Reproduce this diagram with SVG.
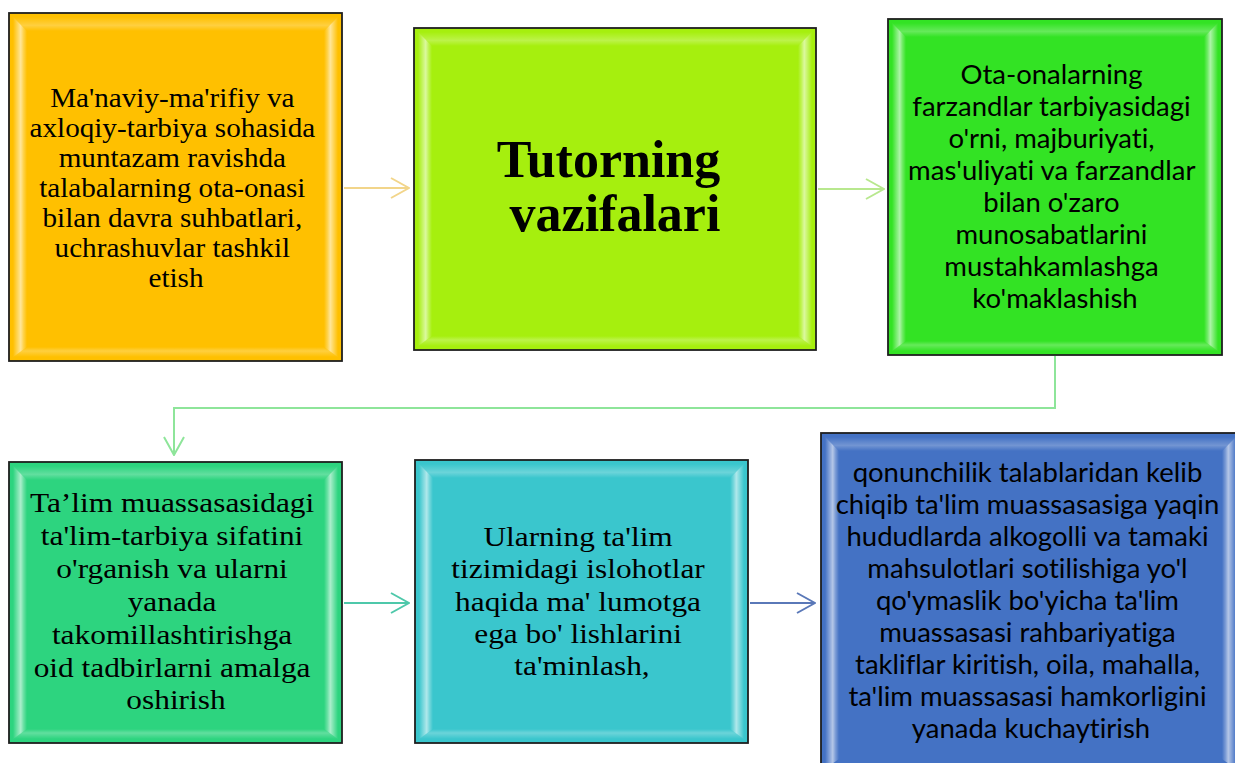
<svg xmlns="http://www.w3.org/2000/svg" width="1235" height="763" viewBox="0 0 1235 763">
<style>
.box{stroke:#1e1e1e;stroke-width:1.8}
.bl{fill:url(#bevL)}
.br{fill:url(#bevR)}
.bt{fill:url(#bevT)}
.bb{fill:url(#bevB)}
.serif{font-family:"Liberation Serif","Times New Roman",serif;font-size:28px;fill:#000;text-anchor:middle}
.title{font-family:"Liberation Serif","Times New Roman",serif;font-size:52px;font-weight:bold;fill:#000;text-anchor:middle}
.sans{font-family:Lato,"Liberation Sans",sans-serif;font-size:27.5px;fill:#000;text-anchor:middle;font-variant-ligatures:none}
.con{fill:none;stroke-width:2}
</style>
<defs>
<linearGradient id="bevL" x1="0" y1="0" x2="1" y2="0">
<stop offset="0" stop-color="#fff" stop-opacity="0"/>
<stop offset="0.55" stop-color="#fff" stop-opacity="0.6"/>
<stop offset="0.75" stop-color="#fff" stop-opacity="0.3"/>
<stop offset="1" stop-color="#fff" stop-opacity="0"/>
</linearGradient>
<linearGradient id="bevR" x1="1" y1="0" x2="0" y2="0">
<stop offset="0" stop-color="#fff" stop-opacity="0"/>
<stop offset="0.55" stop-color="#fff" stop-opacity="0.6"/>
<stop offset="0.75" stop-color="#fff" stop-opacity="0.3"/>
<stop offset="1" stop-color="#fff" stop-opacity="0"/>
</linearGradient>
<linearGradient id="bevT" x1="0" y1="0" x2="0" y2="1">
<stop offset="0" stop-color="#fff" stop-opacity="0"/>
<stop offset="0.6" stop-color="#fff" stop-opacity="0.25"/>
<stop offset="1" stop-color="#fff" stop-opacity="0"/>
</linearGradient>
<linearGradient id="bevB" x1="0" y1="1" x2="0" y2="0">
<stop offset="0" stop-color="#fff" stop-opacity="0"/>
<stop offset="0.6" stop-color="#fff" stop-opacity="0.25"/>
<stop offset="1" stop-color="#fff" stop-opacity="0"/>
</linearGradient>
<marker id="mOr" viewBox="0 0 20 22" refX="19" refY="11" markerWidth="20" markerHeight="22" markerUnits="userSpaceOnUse" orient="auto"><path d="M1,1 L19,11 L1,21" fill="none" stroke="#F2D58A" stroke-width="2"/></marker>
<marker id="mLi" viewBox="0 0 20 22" refX="19" refY="11" markerWidth="20" markerHeight="22" markerUnits="userSpaceOnUse" orient="auto"><path d="M1,1 L19,11 L1,21" fill="none" stroke="#B8E88E" stroke-width="2"/></marker>
<marker id="mGr" viewBox="0 0 20 22" refX="19" refY="11" markerWidth="20" markerHeight="22" markerUnits="userSpaceOnUse" orient="auto"><path d="M1,1 L19,11 L1,21" fill="none" stroke="#8EE59A" stroke-width="2"/></marker>
<marker id="mTe" viewBox="0 0 20 22" refX="19" refY="11" markerWidth="20" markerHeight="22" markerUnits="userSpaceOnUse" orient="auto"><path d="M1,1 L19,11 L1,21" fill="none" stroke="#4EC8AA" stroke-width="2"/></marker>
<marker id="mBl" viewBox="0 0 20 22" refX="19" refY="11" markerWidth="20" markerHeight="22" markerUnits="userSpaceOnUse" orient="auto"><path d="M1,1 L19,11 L1,21" fill="none" stroke="#5A78B8" stroke-width="2"/></marker>
</defs>
<rect width="1235" height="763" fill="#fff"/>

<g id="connectors">
<path class="con" stroke="#F2D58A" d="M344,188 H409" marker-end="url(#mOr)"/>
<path class="con" stroke="#B8E88E" d="M818,189 H884" marker-end="url(#mLi)"/>
<path class="con" stroke="#8EE59A" d="M1055,356 V408 H174 V455" marker-end="url(#mGr)"/>
<path class="con" stroke="#4EC8AA" d="M344,603 H409" marker-end="url(#mTe)"/>
<path class="con" stroke="#5A78B8" d="M750,603 H815" marker-end="url(#mBl)"/>
</g>

<g id="node1">
<rect class="box" x="9" y="13" width="333" height="348" fill="#FFC000"/>
<polygon class="bl" points="13,17 27,31 27,347 13,357"/>
<polygon class="br" points="338,17 324,31 324,347 338,357"/>
<polygon class="bt" points="13,17 338,17 324,31 27,31"/>
<polygon class="bb" points="13,357 338,357 324,347 27,347"/>
<text class="serif" style="font-size:26.5px" transform="translate(176,0) scale(1.1,1) translate(-176,0)">
<tspan x="176" y="107">Ma'naviy-ma'rifiy va</tspan>
<tspan x="176" y="137">axloqiy-tarbiya sohasida</tspan>
<tspan x="176" y="167">muntazam ravishda</tspan>
<tspan x="176" y="197">talabalarning ota-onasi</tspan>
<tspan x="176" y="227">bilan davra suhbatlari,</tspan>
<tspan x="176" y="257">uchrashuvlar tashkil</tspan>
<tspan x="176" y="287">etish</tspan>
</text>
</g>

<g id="node2">
<rect class="box" x="414" y="28" width="402" height="322" fill="#A6EF0E"/>
<polygon class="bl" points="418,32 432,46 432,336 418,346"/>
<polygon class="br" points="812,32 798,46 798,336 812,346"/>
<polygon class="bt" points="418,32 812,32 798,46 432,46"/>
<polygon class="bb" points="418,346 812,346 798,336 432,336"/>
<text class="title">
<tspan x="615" y="177">Tutorning</tspan>
<tspan x="615" y="231">vazifalari</tspan>
</text>
</g>

<g id="node3">
<rect class="box" x="888" y="19" width="334" height="336" fill="#33E324"/>
<polygon class="bl" points="892,23 906,37 906,341 892,351"/>
<polygon class="br" points="1218,23 1204,37 1204,341 1218,351"/>
<polygon class="bt" points="892,23 1218,23 1204,37 906,37"/>
<polygon class="bb" points="892,351 1218,351 1204,341 906,341"/>
<text class="sans">
<tspan x="1055" y="84">Ota-onalarning</tspan>
<tspan x="1055" y="116">farzandlar tarbiyasidagi</tspan>
<tspan x="1055" y="148">o'rni, majburiyati,</tspan>
<tspan x="1055" y="180">mas'uliyati va farzandlar</tspan>
<tspan x="1055" y="212">bilan o'zaro</tspan>
<tspan x="1055" y="244">munosabatlarini</tspan>
<tspan x="1055" y="276">mustahkamlashga</tspan>
<tspan x="1055" y="308">ko'maklashish</tspan>
</text>
</g>

<g id="node4">
<rect class="box" x="9" y="462" width="333" height="281" fill="#2DD47F"/>
<polygon class="bl" points="13,466 27,480 27,729 13,739"/>
<polygon class="br" points="338,466 324,480 324,729 338,739"/>
<polygon class="bt" points="13,466 338,466 324,480 27,480"/>
<polygon class="bb" points="13,739 338,739 324,729 27,729"/>
<text class="serif" transform="translate(176,0) scale(1.12,1) translate(-176,0)">
<tspan x="176" y="512">Ta’lim muassasasidagi</tspan>
<tspan x="176" y="545">ta'lim-tarbiya sifatini</tspan>
<tspan x="176" y="578">o'rganish va ularni</tspan>
<tspan x="176" y="611">yanada</tspan>
<tspan x="176" y="644">takomillashtirishga</tspan>
<tspan x="176" y="677">oid tadbirlarni amalga</tspan>
<tspan x="176" y="709">oshirish</tspan>
</text>
</g>

<g id="node5">
<rect class="box" x="415" y="460" width="333" height="283" fill="#3AC6CD"/>
<polygon class="bl" points="419,464 433,478 433,729 419,739"/>
<polygon class="br" points="744,464 730,478 730,729 744,739"/>
<polygon class="bt" points="419,464 744,464 730,478 433,478"/>
<polygon class="bb" points="419,739 744,739 730,729 433,729"/>
<text class="serif" transform="translate(582,0) scale(1.12,1) translate(-582,0)">
<tspan x="582" y="546">Ularning ta'lim</tspan>
<tspan x="582" y="578">tizimidagi islohotlar</tspan>
<tspan x="582" y="611">haqida ma' lumotga</tspan>
<tspan x="582" y="643">ega bo' lishlarini</tspan>
<tspan x="582" y="675">ta'minlash,</tspan>
</text>
</g>

<g id="node6">
<rect class="box" x="821" y="433" width="419" height="340" fill="#4472C4"/>
<polygon class="bl" points="825,437 839,451 839,759 825,769"/>
<polygon class="br" points="1236,437 1222,451 1222,759 1236,769"/>
<polygon class="bt" points="825,437 1236,437 1222,451 839,451"/>
<text class="sans">
<tspan x="1031" y="482">qonunchilik talablaridan kelib</tspan>
<tspan x="1031" y="514">chiqib ta'lim muassasasiga yaqin</tspan>
<tspan x="1031" y="546">hududlarda alkogolli va tamaki</tspan>
<tspan x="1031" y="578">mahsulotlari sotilishiga yo'l</tspan>
<tspan x="1031" y="610">qo'ymaslik bo'yicha ta'lim</tspan>
<tspan x="1031" y="642">muassasasi rahbariyatiga</tspan>
<tspan x="1031" y="674">takliflar kiritish, oila, mahalla,</tspan>
<tspan x="1031" y="706">ta'lim muassasasi hamkorligini</tspan>
<tspan x="1031" y="738">yanada kuchaytirish</tspan>
</text>
</g>
</svg>
